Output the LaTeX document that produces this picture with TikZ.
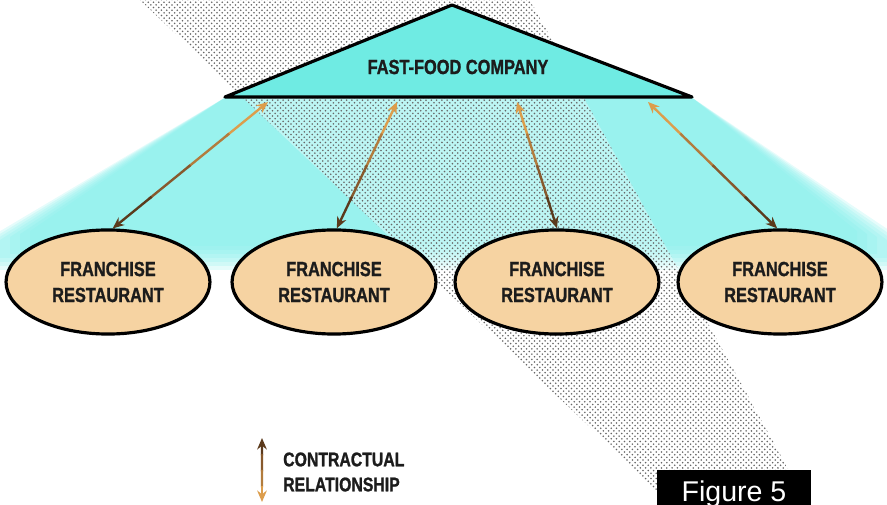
\documentclass[tikz,border=0pt]{standalone}
\usepackage{fontspec}
\setmainfont{Liberation Sans}
\newfontfamily\condb[FakeStretch=0.8, FakeBold=1.2]{Liberation Sans Bold}
\usetikzlibrary{shapes.geometric, arrows.meta, calc, patterns}
\definecolor{cyanglow}{HTML}{7EEEEA}
\definecolor{trifill}{HTML}{6FEBE3}
\definecolor{tanfill}{HTML}{F6D3A2}
\definecolor{arrA}{HTML}{DC9D4C}
\definecolor{arrB}{HTML}{B27C3D}
\definecolor{arrC}{HTML}{87592D}
\definecolor{arrD}{HTML}{5B3A1C}
\definecolor{ink}{HTML}{1C1C1C}
\tikzset{
  franchise/.style={ellipse, draw=black, line width=1.8pt, fill=tanfill,
    minimum width=115.6pt, minimum height=59pt, inner sep=0pt, align=center,
    font=\condb\fontsize{11.6}{14.7}\selectfont, text=ink},
  seg/.style={line width=1.35pt},
}
\newcommand\contract[2]{%
  \draw[seg, arrA, {Stealth[length=6.5pt,width=5.5pt]}-] (#1) -- ($(#1)!0.27!(#2)$);
  \draw[seg, arrB] ($(#1)!0.25!(#2)$) -- ($(#1)!0.52!(#2)$);
  \draw[seg, arrC] ($(#1)!0.5!(#2)$) -- ($(#1)!0.77!(#2)$);
  \draw[seg, arrD, -{Stealth[length=6.5pt,width=5.5pt]}] ($(#1)!0.75!(#2)$) -- (#2);}
\newcommand\legendarrow[2]{%
  \draw[seg, arrD, {Stealth[length=6.5pt,width=5.5pt]}-] (#1) -- ($(#1)!0.27!(#2)$);
  \draw[seg, arrC] ($(#1)!0.25!(#2)$) -- ($(#1)!0.52!(#2)$);
  \draw[seg, arrB] ($(#1)!0.5!(#2)$) -- ($(#1)!0.77!(#2)$);
  \draw[seg, arrA, -{Stealth[length=6.5pt,width=5.5pt]}] ($(#1)!0.75!(#2)$) -- (#2);}
\begin{document}
\begin{tikzpicture}[x=0.5669pt, y=-0.5669pt]
\useasboundingbox (0,0) rectangle (887,505);
% cyan glow (soft edges by stacked translucent layers)
\foreach \d in {-30,-20,-10,0,10,20,30}{
  \fill[cyanglow, opacity=0.2]
    (226,97) -- (691,97) -- (887-\d,240-\d*0.3) -- (887-\d,258-\d*0.4) -- (\d,258-\d*0.4) -- (\d,240-\d*0.3) -- cycle;
}
% dotted band
\fill[white, opacity=0.35] (140,0) -- (530,0) -- (808,505) -- (672,505) -- cycle;
\fill[pattern=crosshatch dots, pattern color=black!60] (140,0) -- (530,0) -- (808,505) -- (672,505) -- cycle;
% triangle
\draw[fill=trifill, line width=1.8pt, line join=round] (452,5) -- (692,97) -- (225,97) -- cycle;
\node[font=\condb\fontsize{11.6}{14.7}\selectfont, text=ink] (company) at (458,67) {FAST-FOOD COMPANY};
\coordinate (t1) at (268,102);
\coordinate (t2) at (397,102);
\coordinate (t3) at (517,102);
\coordinate (t4) at (648,102);
% franchises
\node[franchise] (f1) at (108,282) {FRANCHISE\\RESTAURANT};
\node[franchise] (f2) at (334,282) {FRANCHISE\\RESTAURANT};
\node[franchise] (f3) at (557,282) {FRANCHISE\\RESTAURANT};
\node[franchise] (f4) at (780,282) {FRANCHISE\\RESTAURANT};
\contract{t1}{f1.85}
\contract{t2}{f2.87}
\contract{t3}{f3.north}
\contract{t4}{f4.93}
% legend
\coordinate (l1) at (262,438);
\coordinate (l2) at (262,502);
\legendarrow{l1}{l2}
\node[anchor=west, align=left, font=\condb\fontsize{11.2}{14.2}\selectfont, text=ink] (legend) at (277,472) {CONTRACTUAL\\RELATIONSHIP};
% figure label
\fill[black] (657,470) rectangle (811,515);
\node[anchor=base, text=white, font=\fontsize{16.2}{18}\selectfont, inner sep=0pt] (fig) at (734,501) {Figure 5};
\end{tikzpicture}
\end{document}
